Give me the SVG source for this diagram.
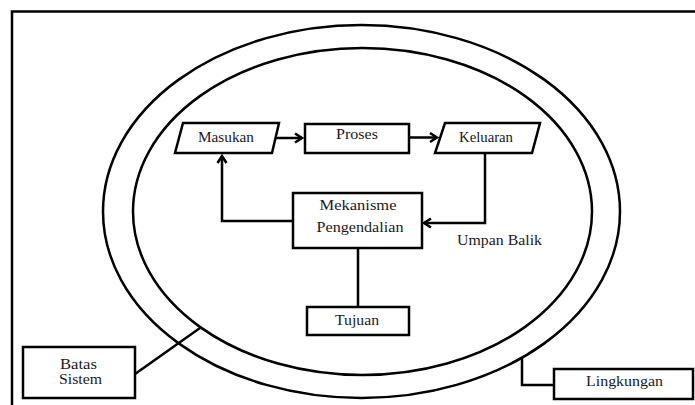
<svg xmlns="http://www.w3.org/2000/svg" width="695" height="405" viewBox="0 0 695 405">
<style>
.s{fill:none;stroke:#000;stroke-width:2.5}
.b{fill:#fff;stroke:#000;stroke-width:2.5}
.c{fill:none;stroke:#000;stroke-width:2.5}
text{font-family:'Liberation Serif','Times New Roman','DejaVu Serif',serif;font-size:14px;fill:#1a1a1a;text-anchor:middle}
</style>
<defs>
<marker id="ah" markerUnits="userSpaceOnUse" markerWidth="12" markerHeight="12" refX="8" refY="6" orient="auto">
<path d="M1,1.5 L8,6 L1,10.5" fill="none" stroke="#000" stroke-width="2.5"/>
</marker>
</defs>
<rect width="695" height="405" fill="#fff"/>
<g id="frame"><path class="s" d="M12,406 V11.5 H700" stroke-width="3"/></g>
<g id="boundary">
<ellipse class="s" cx="361.5" cy="211.5" rx="258.5" ry="186.5"/>
<ellipse class="s" cx="362.5" cy="211.5" rx="229.5" ry="163.5"/>
</g>
<g id="connectors">
<path class="c" d="M275,138 H302" marker-end="url(#ah)"/>
<path class="c" d="M409,137.5 H437" marker-end="url(#ah)"/>
<path class="c" d="M485,153 V223 H424" marker-end="url(#ah)"/>
<path class="c" d="M293,221 H222 V156" marker-end="url(#ah)"/>
<path class="c" d="M358,248 V307"/>
<path class="c" d="M135,374 L200,328"/>
<path class="c" d="M522,358 V385 H554"/>
</g>
<g id="masukan">
<polygon class="b" points="183,123 279,123 272,153 175,153"/>
<text x="226" y="142" textLength="56" lengthAdjust="spacingAndGlyphs">Masukan</text>
</g>
<g id="proses">
<rect class="b" x="305" y="124" width="104" height="29"/>
<text x="357" y="139" textLength="42" lengthAdjust="spacingAndGlyphs">Proses</text>
</g>
<g id="keluaran">
<polygon class="b" points="445,123 540,123 532,153 435,153"/>
<text x="486" y="142" textLength="54" lengthAdjust="spacingAndGlyphs">Keluaran</text>
</g>
<g id="mekanisme">
<rect class="b" x="293" y="193" width="129" height="55"/>
<text x="358" y="210" textLength="77" lengthAdjust="spacingAndGlyphs">Mekanisme</text>
<text x="360" y="232" textLength="87" lengthAdjust="spacingAndGlyphs">Pengendalian</text>
</g>
<g id="umpan-balik">
<text x="499.5" y="245" textLength="85" lengthAdjust="spacingAndGlyphs">Umpan Balik</text>
</g>
<g id="tujuan">
<rect class="b" x="307" y="307" width="102" height="28"/>
<text x="357" y="325" textLength="44" lengthAdjust="spacingAndGlyphs">Tujuan</text>
</g>
<g id="batas-sistem">
<rect class="b" x="23" y="347" width="112" height="51"/>
<text x="78.5" y="369" textLength="37" lengthAdjust="spacingAndGlyphs">Batas</text>
<text x="80.5" y="384" textLength="43" lengthAdjust="spacingAndGlyphs">Sistem</text>
</g>
<g id="lingkungan">
<rect class="b" x="554" y="369" width="139" height="30"/>
<text x="624.5" y="386" textLength="77" lengthAdjust="spacingAndGlyphs">Lingkungan</text>
</g>
</svg>
